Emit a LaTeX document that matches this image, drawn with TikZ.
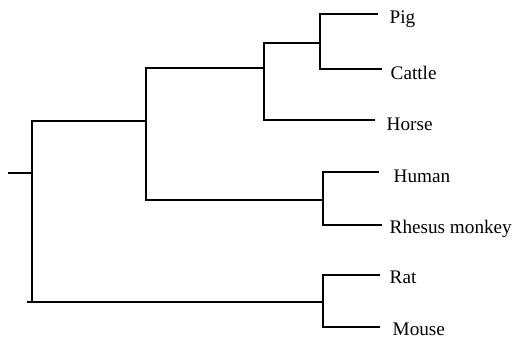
\documentclass[tikz,border=0pt]{standalone}
\usepackage{fontspec}
\setmainfont{Liberation Serif}
\usetikzlibrary{positioning}

\begin{document}
\begin{tikzpicture}[x=0.5pt,y=-0.5pt,line width=0.7pt,
                    leaf/.style={anchor=base west,inner sep=0pt,
                                 font=\fontsize{9.6}{11}\selectfont}]
\useasboundingbox (0,0) rectangle (513,339);
% inner nodes
\coordinate (stub) at (8,173);
\coordinate (root) at (32,173);
\coordinate (rootbase) at (27,302);
\coordinate (ungprim) at (146,121);
\coordinate (ung) at (264,68);
\coordinate (pigcattle) at (320,43);
\coordinate (prim) at (323,200);
\coordinate (rod) at (323,302);
% leaf line ends
\coordinate (pigend) at (378,14);
\coordinate (cattleend) at (382,69);
\coordinate (horseend) at (375,120);
\coordinate (humanend) at (379,172);
\coordinate (rhesusend) at (382,225);
\coordinate (ratend) at (380,275);
\coordinate (mouseend) at (380,327);
% labels
\node[leaf] (pig) at (389,23) {Pig};
\node[leaf] (cattle) at (390,79) {Cattle};
\node[leaf] (horse) at (386,130) {Horse};
\node[leaf] (human) at (393,182) {Human};
\node[leaf] (rhesus) at (389,233) {Rhesus monkey};
\node[leaf] (rat) at (389,283) {Rat};
\node[leaf] (mouse) at (392,335) {Mouse};
\draw (stub) -- (root);
\draw (root) |- (ungprim);
\draw (root) |- (rootbase) -- (rod);
\draw (ungprim) |- (ung);
\draw (ungprim) |- (prim);
\draw (ung) |- (pigcattle);
\draw (ung) |- (horseend);
\draw (pigcattle) |- (pigend);
\draw (pigcattle) |- (cattleend);
\draw (prim) |- (humanend);
\draw (prim) |- (rhesusend);
\draw (rod) |- (ratend);
\draw (rod) |- (mouseend);
\end{tikzpicture}
\end{document}
